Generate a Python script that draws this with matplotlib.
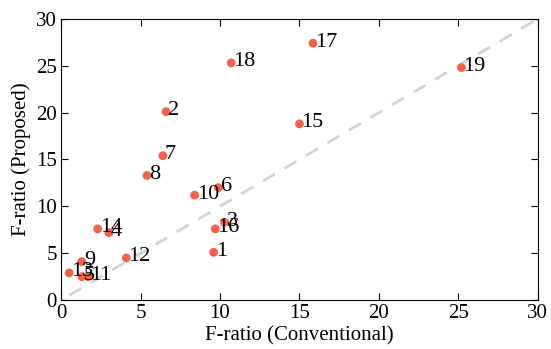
import matplotlib
matplotlib.use('Agg')
import matplotlib.pyplot as plt

plt.rcParams['font.family'] = 'Liberation Serif'

labels = ['1', '2', '3', '4', '5', '6', '7', '8', '9', '10',
          '11', '12', '13', '14', '15', '16', '17', '18', '19']
conventional = [9.6, 6.6, 10.3, 3.0, 1.3, 9.9, 6.4, 5.4, 1.3, 8.4,
                1.7, 4.1, 0.5, 2.3, 15.0, 9.7, 15.85, 10.7, 25.2]
proposed = [5.1, 20.1, 8.3, 7.2, 2.5, 12.0, 15.4, 13.3, 4.1, 11.2,
            2.5, 4.5, 2.9, 7.6, 18.8, 7.6, 27.4, 25.3, 24.8]

fig = plt.figure(figsize=(5.51, 3.49), dpi=100)
ax = fig.add_axes([0.111, 0.140, 0.865, 0.806])

ax.plot([0.5, 30], [0.5, 30], '--', color='#d3d3d3', lw=2, dashes=(5, 4), zorder=1)
ax.scatter(conventional, proposed, s=40, color='#f5614a', edgecolors='none', zorder=2)
for lab, x, y in zip(labels, conventional, proposed):
    ax.annotate(lab, (x, y), xytext=(1.5, -2.5), textcoords='offset points',
                fontsize=16, va='baseline', ha='left')

ax.set_xlim(0, 30)
ax.set_ylim(0, 30)
ax.set_xticks(range(0, 31, 5))
ax.set_yticks(range(0, 31, 5))
ax.tick_params(direction='in', top=True, right=True, labelsize=15, length=5, pad=3)
ax.set_xlabel('F-ratio (Conventional)', fontsize=15, labelpad=2)
ax.set_ylabel('F-ratio (Proposed)', fontsize=15, labelpad=4)

fig.savefig('out.png', dpi=100)
